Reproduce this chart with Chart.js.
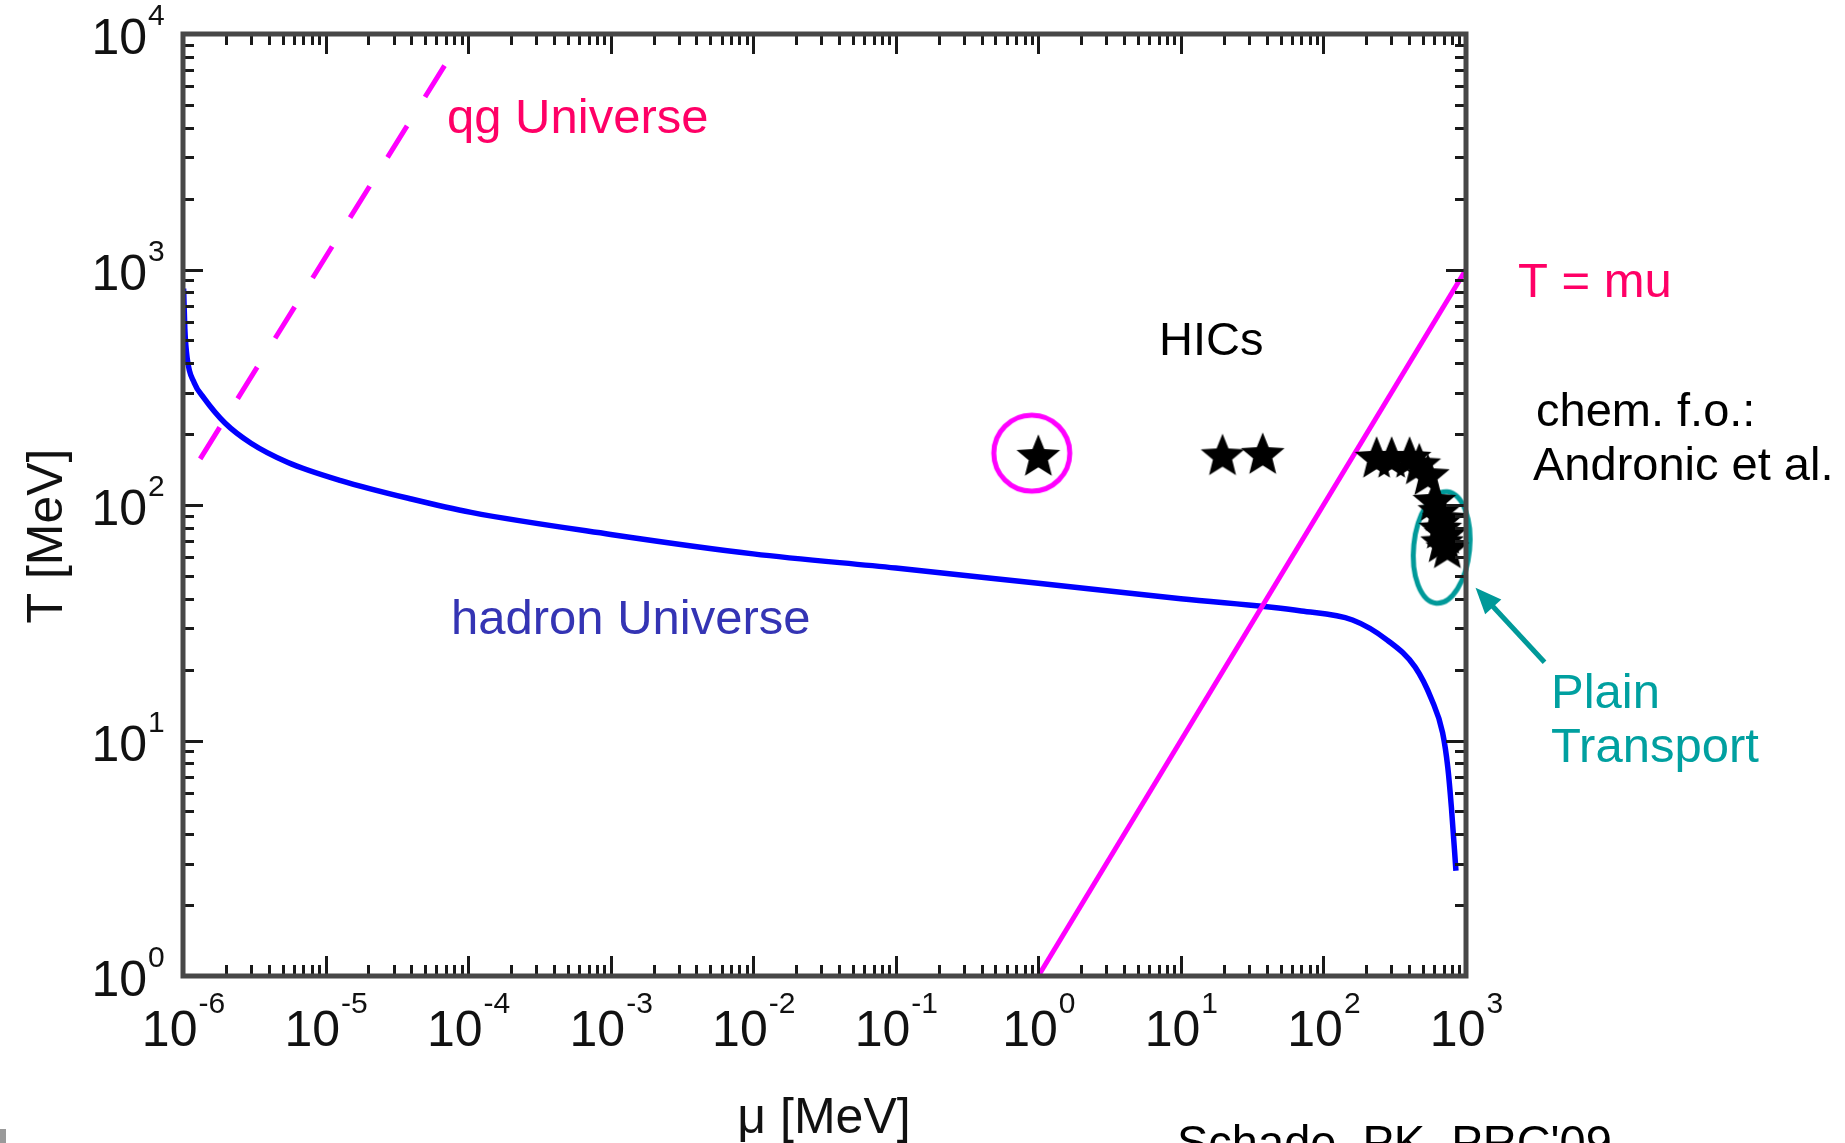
<!DOCTYPE html>
<html><head><meta charset="utf-8">
<script src="https://cdn.jsdelivr.net/npm/chart.js@4/dist/chart.umd.min.js"></script>
<style>html,body{margin:0;padding:0;background:#fff;overflow:hidden}canvas{display:block}</style>
</head><body>
<canvas id="c" width="1845" height="1143"></canvas>
<script>
// ---- data (mu in MeV, T in MeV) ----
const xTickExponents = [-6, -5, -4, -3, -2, -1, 0, 1, 2, 3];
const yTickExponents = [0, 1, 2, 3, 4];
const hadronMu = [1.01e-6, 1.03e-6, 1.07e-6, 1.2e-6, 1.4e-6, 1.97e-6, 3.0e-6, 5.4e-6, 1.28e-5, 4.0e-5, 1.05e-4, 1.0e-3, 1.0e-2, 0.1, 1, 10, 70, 160, 280, 440, 575, 685, 745, 790, 850];
const hadronT  = [830, 560, 420, 330, 285, 223, 183, 152, 127, 106, 93, 75, 62, 54, 46.5, 40, 35.5, 32.5, 26.7, 20.5, 14.9, 10.8, 7.7, 5.2, 2.8];
const tEqMuMu = [1, 1000];
const tEqMuT  = [1, 1000];
const qgMu = [1.32e-6, 6.87e-5];
const qgT  = [157, 7380];
const starMu = [1, 19.6, 37.5, 236, 301, 402, 470, 540, 600, 650, 700, 660, 720, 680, 740];
const starT  = [163, 164, 166, 160, 160, 160, 150, 135, 105, 95, 88, 80, 76, 70, 66];
const circledMu = [0.9];
const circledT  = [166];
const ellipseMu = [675];
const ellipseT  = [66];
const arrowMu = [3556, 1167];
const arrowT  = [21.5, 44.5];

const FONT = "'Liberation Sans', Arial, sans-serif";

function makeStar(R, ratio, color) {
  const s = Math.ceil(2 * R + 4);
  const c = document.createElement('canvas'); c.width = s; c.height = s;
  const g = c.getContext('2d');
  const cx = s / 2, cy = s / 2 + (R - R * Math.cos(Math.PI / 5)) / 2;
  g.beginPath();
  for (let i = 0; i < 10; i++) {
    const r = i % 2 === 0 ? R : R * ratio;
    const a = -Math.PI / 2 + i * Math.PI / 5;
    const px = cx + r * Math.cos(a), py = cy + r * Math.sin(a);
    i === 0 ? g.moveTo(px, py) : g.lineTo(px, py);
  }
  g.closePath(); g.fillStyle = color; g.fill();
  return c;
}
function makeEllipse(rx, ry, rot, lw, color) {
  const w = Math.ceil(2 * (rx + lw) + 10), h = Math.ceil(2 * (ry + lw) + 6);
  const c = document.createElement('canvas'); c.width = w; c.height = h;
  const g = c.getContext('2d');
  g.beginPath(); g.ellipse(w / 2, h / 2, rx, ry, rot, 0, Math.PI * 2);
  g.lineWidth = lw; g.strokeStyle = color; g.stroke();
  return c;
}
const starImg = makeStar(23, 0.44, '#000');
const ringImg = makeEllipse(38, 38, 0, 5, '#FF00FF');
const ellImg = makeEllipse(28, 56, 0.1, 5, '#009999');

const zip = (a, b) => a.map((v, i) => ({ x: v, y: b[i] }));

const texts = [
  { t: 'qg Universe', x: 447, y: 133, c: '#FF0066', s: 49 },
  { t: 'T = mu', x: 1518, y: 297, c: '#FF0066', s: 49 },
  { t: 'HICs', x: 1159, y: 355, c: '#000', s: 47 },
  { t: 'chem. f.o.:', x: 1536, y: 426, c: '#000', s: 47 },
  { t: 'Andronic et al.', x: 1533, y: 480, c: '#000', s: 47 },
  { t: 'hadron Universe', x: 451, y: 634, c: '#3434B4', s: 49 },
  { t: 'Plain', x: 1551, y: 708, c: '#00A0A0', s: 49 },
  { t: 'Transport', x: 1551, y: 762, c: '#00A0A0', s: 49 },
  { t: 'Schade, PK, PRC\'09', x: 1177, y: 1158, c: '#000', s: 47 }
];

const framePlugin = {
  id: 'framePlugin',
  afterDatasetsDraw(chart) {
    const { ctx, chartArea: a, scales: { x, y } } = chart;
    ctx.save();
    // arrow
    const x0 = x.getPixelForValue(arrowMu[0]), y0 = y.getPixelForValue(arrowT[0]);
    const x1 = x.getPixelForValue(arrowMu[1]), y1 = y.getPixelForValue(arrowT[1]);
    const ang = Math.atan2(y1 - y0, x1 - x0);
    const hl = 26, hw = 11;
    ctx.strokeStyle = '#009999'; ctx.fillStyle = '#009999'; ctx.lineWidth = 5;
    ctx.beginPath(); ctx.moveTo(x0, y0); ctx.lineTo(x1 - hl * 0.8 * Math.cos(ang), y1 - hl * 0.8 * Math.sin(ang)); ctx.stroke();
    ctx.beginPath(); ctx.moveTo(x1, y1);
    ctx.lineTo(x1 - hl * Math.cos(ang) + hw * Math.sin(ang), y1 - hl * Math.sin(ang) - hw * Math.cos(ang));
    ctx.lineTo(x1 - hl * Math.cos(ang) - hw * Math.sin(ang), y1 - hl * Math.sin(ang) + hw * Math.cos(ang));
    ctx.closePath(); ctx.fill();

    // ticks (inward, all four sides)
    ctx.strokeStyle = '#1a1a1a'; ctx.lineWidth = 3;
    const seg = (ax, ay, bx, by) => { ctx.beginPath(); ctx.moveTo(ax, ay); ctx.lineTo(bx, by); ctx.stroke(); };
    for (let e = -6; e <= 3; e++) for (let k = 1; k < 10; k++) {
      const v = k * Math.pow(10, e); if (v > 1e3 * 1.0001) break;
      const px = Math.round(x.getPixelForValue(v)) + 0.5; const L = k === 1 ? 20 : 11;
      seg(px, a.bottom, px, a.bottom - L); seg(px, a.top, px, a.top + L);
    }
    for (let e = 0; e <= 4; e++) for (let k = 1; k < 10; k++) {
      const v = k * Math.pow(10, e); if (v > 1e4 * 1.0001) break;
      const py = Math.round(y.getPixelForValue(v)) + 0.5; const L = k === 1 ? 20 : 11;
      seg(a.left, py, a.left + L, py); seg(a.right, py, a.right - L, py);
    }
    // frame
    ctx.strokeStyle = '#474747'; ctx.lineWidth = 5;
    ctx.strokeRect(a.left, a.top, a.right - a.left, a.bottom - a.top);
    ctx.restore();
  },
  afterDraw(chart) {
    const { ctx, chartArea: a, scales: { x, y } } = chart;
    ctx.save();
    ctx.fillStyle = '#111';
    // x tick labels
    xTickExponents.forEach(e => {
      const px = x.getPixelForValue(Math.pow(10, e));
      const base = '10', ex = String(e);
      ctx.font = '50px ' + FONT; const wb = ctx.measureText(base).width;
      ctx.font = '30px ' + FONT; const we = ctx.measureText(ex).width;
      const left = px - (wb + we) / 2;
      ctx.textAlign = 'left'; ctx.textBaseline = 'alphabetic';
      ctx.font = '50px ' + FONT; ctx.fillText(base, left, a.bottom + 70);
      ctx.font = '30px ' + FONT; ctx.fillText(ex, left + wb + 1, a.bottom + 37);
    });
    // y tick labels
    yTickExponents.forEach(e => {
      const py = y.getPixelForValue(Math.pow(10, e));
      ctx.textAlign = 'right'; ctx.textBaseline = 'alphabetic';
      ctx.font = '50px ' + FONT; ctx.fillText('10', 147, py + 20);
      ctx.textAlign = 'left';
      ctx.font = '30px ' + FONT; ctx.fillText(String(e), 148, py - 9);
    });
    // axis titles
    ctx.fillStyle = '#111';
    ctx.font = '50px ' + FONT; ctx.textAlign = 'center'; ctx.textBaseline = 'alphabetic';
    ctx.fillText('\u03bc [MeV]', 824, 1133);
    ctx.save(); ctx.translate(62, 536); ctx.rotate(-Math.PI / 2);
    ctx.fillText('T [MeV]', 0, 0); ctx.restore();
    // annotations
    ctx.textAlign = 'left'; ctx.textBaseline = 'alphabetic';
    texts.forEach(o => { ctx.fillStyle = o.c; ctx.font = o.s + 'px ' + FONT; ctx.fillText(o.t, o.x, o.y); });
    // small grey mark at lower-left edge
    ctx.fillStyle = '#9a9a9a'; ctx.fillRect(0, 1129, 6, 14);
    ctx.restore();
  }
};

new Chart(document.getElementById('c'), {
  type: 'scatter',
  data: {
    datasets: [
      { label: 'stars', data: zip(starMu, starT), pointStyle: starImg, pointRadius: 22, showLine: false, clip: false, order: 0 },
      { label: 'circled', data: zip(circledMu, circledT), pointStyle: ringImg, pointRadius: 40, showLine: false, clip: false, order: 1 },
      { label: 'plain transport', data: zip(ellipseMu, ellipseT), pointStyle: ellImg, pointRadius: 60, showLine: false, clip: false, order: 1 },
      { label: 'T = mu', data: zip(tEqMuMu, tEqMuT), showLine: true, borderColor: '#FF00FF', borderWidth: 5, pointRadius: 0, clip: false, order: 3 },
      { label: 'qg Universe', data: zip(qgMu, qgT), showLine: true, borderColor: '#FF00FF', borderWidth: 5, borderDash: [37, 34], pointRadius: 0, order: 3 },
      { label: 'hadron Universe', data: zip(hadronMu, hadronT), showLine: true, borderColor: '#0000FF', borderWidth: 5.5, pointRadius: 0, cubicInterpolationMode: 'monotone', order: 4 }
    ]
  },
  options: {
    responsive: false, animation: false, devicePixelRatio: 1, events: [],
    layout: { autoPadding: false, padding: { left: 183, top: 34, right: 379, bottom: 167 } },
    plugins: { legend: { display: false }, tooltip: { enabled: false } },
    scales: {
      x: { type: 'logarithmic', min: 1e-6, max: 1e3, display: false },
      y: { type: 'logarithmic', min: 1, max: 1e4, display: false }
    }
  },
  plugins: [framePlugin]
});
</script>
</body></html>
